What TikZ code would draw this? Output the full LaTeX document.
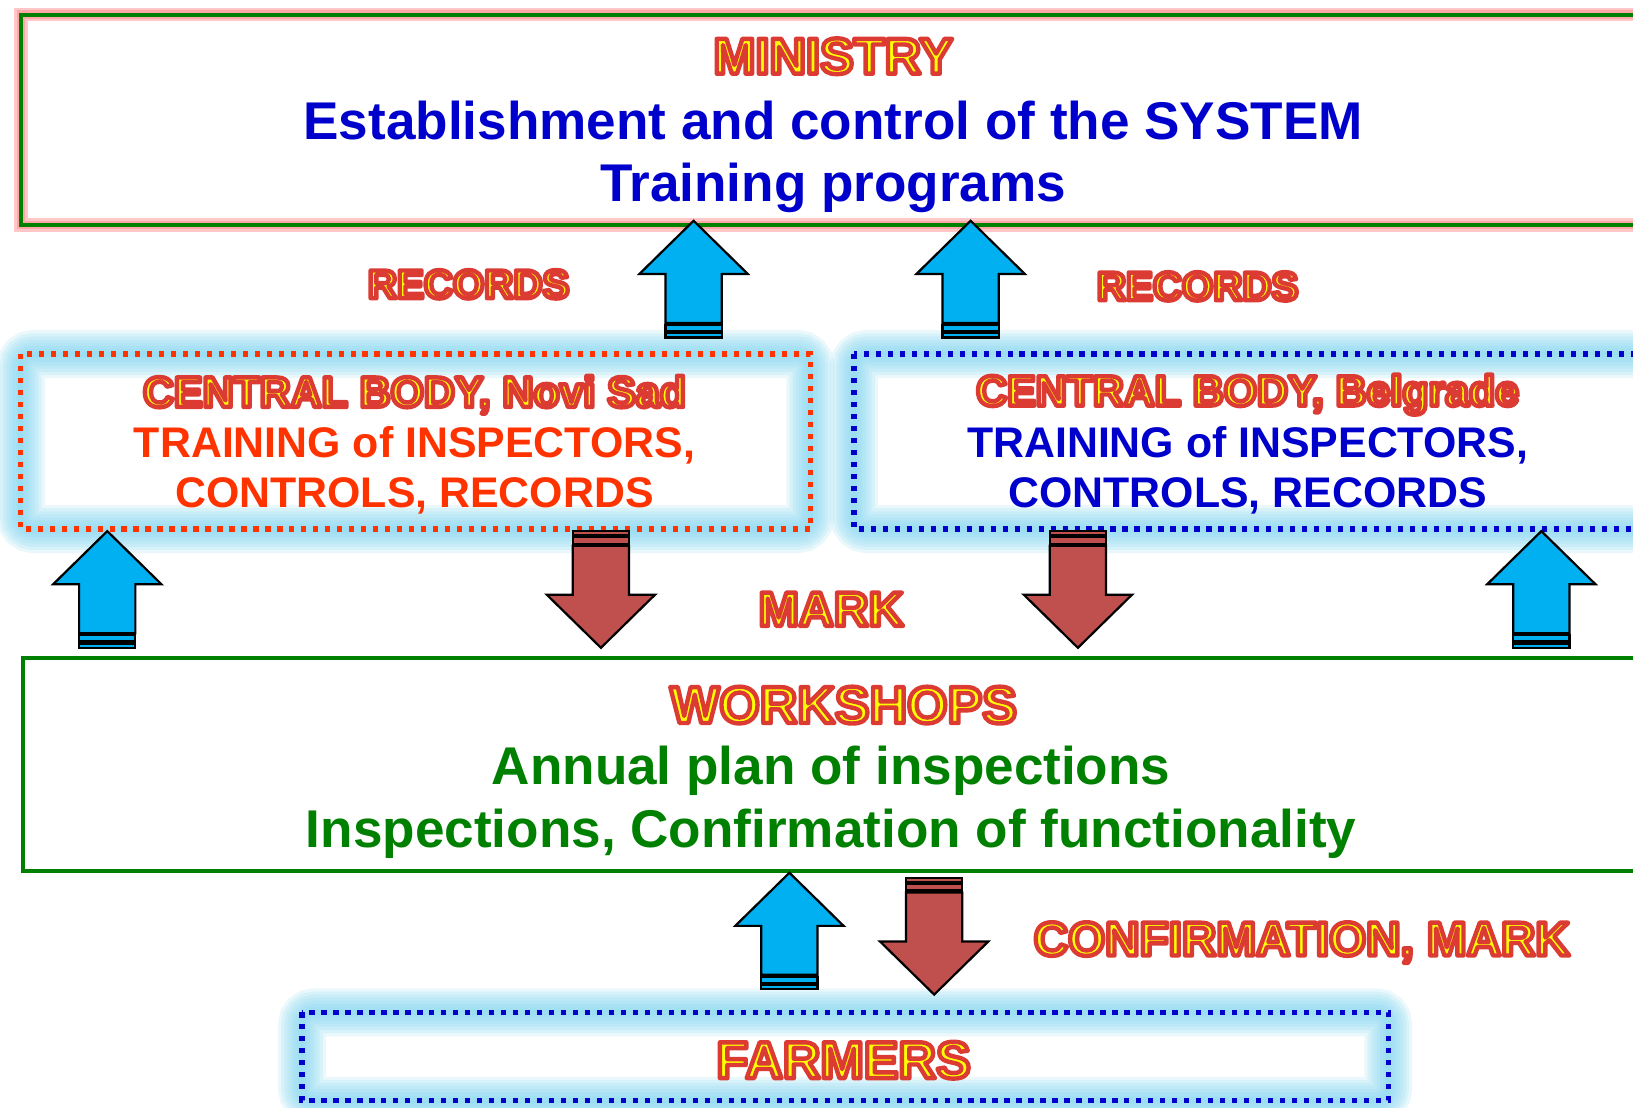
\documentclass[tikz,border=0pt]{standalone}
\usepackage{fontspec}
\setmainfont{Liberation Sans}
\definecolor{mblue}{HTML}{0000CC}
\definecolor{mgreen}{HTML}{008000}
\definecolor{morange}{HTML}{FF3300}
\definecolor{outyellow}{HTML}{FFFF00}
\definecolor{glowblue}{HTML}{7FD6F2}
\definecolor{arrblue}{HTML}{00B0F0}
\definecolor{arrred}{HTML}{C0504D}
% yellow letters with a red stroke (fill and stroke render mode)
\newcommand{\outl}[1]{{\color{outyellow}\special{pdf:literal direct 2 Tr 1.2 w 1 j 0.86 0.23 0.2 RG}#1\special{pdf:literal direct 0 Tr}}}
\tikzset{
	uparr/.pic={
		\draw[arrline,fill=arrblue] (0,0) -- (52,51) -- (27,51) -- (27,98) -- (-27,98) -- (-27,51) -- (-52,51) -- cycle;
		\draw[arrline,fill=arrblue] (-27,100) rectangle (27,106);
		\draw[arrline,fill=arrblue] (-27,108) rectangle (27,112);
	},
	downarr/.pic={
		\draw[arrline,fill=arrred] (-27,0) rectangle (27,4);
		\draw[arrline,fill=arrred] (-27,6) rectangle (27,12);
		\draw[arrline,fill=arrred] (-27,14) -- (27,14) -- (27,61) -- (52,61) -- (0,112) -- (-52,61) -- (-27,61) -- cycle;
	},
}
\begin{document}
\begin{tikzpicture}[x=0.01cm,y=-0.01cm,
		arrline/.style={draw=black,line width=0.6pt},
		dotbox/.style={line width=0.05cm,dash pattern=on 0.05cm off 0.065cm},
		bigtext/.style={inner sep=0,font=\fontsize{14.5}{17}\selectfont\bfseries},
		midtext/.style={inner sep=0,font=\fontsize{11.7}{14}\selectfont\bfseries},
		outtext/.style={inner sep=0,font=\fontsize{#1}{16}\selectfont\bfseries}]
	\useasboundingbox[clip] (0,0) rectangle (1568,1063);
	\fill[white] (0,0) rectangle (1568,1063);
	% glow round the dotted boxes
	\foreach \w in {0.46,0.40,0.34,0.28,0.22,0.16,0.10,0.05} {
		\draw[glowblue,line width=\w cm,opacity=0.16,rounded corners=0.12cm] (20,340) rectangle (778,508);
		\draw[glowblue,line width=\w cm,opacity=0.16,rounded corners=0.12cm] (820,340) rectangle (1620,508);
		\draw[glowblue,line width=\w cm,opacity=0.16,rounded corners=0.12cm] (290,972) rectangle (1333,1057);
	}
	% boxes
	\draw[red!22,line width=0.13cm] (20,14) rectangle (1620,216);
	\draw[red!35,line width=0.08cm] (20,14) rectangle (1620,216);
	\draw[mgreen,line width=0.04cm] (20,14) rectangle (1620,216);
	\draw[morange,dotbox] (20,340) rectangle (778,508);
	\draw[mblue,dotbox] (820,340) rectangle (1620,508);
	\draw[mgreen,line width=0.04cm] (22,632) rectangle (1620,836);
	\draw[mblue,dotbox] (290,972) rectangle (1333,1057);
	% texts
	\node[outtext=13.8] (ministry) at (800,54) {\outl{MINISTRY}};
	\node[bigtext,mblue] (estab) at (800,116) {Establishment and control of the SYSTEM};
	\node[bigtext,mblue] (progs) at (800,180) {Training programs};
	\node[outtext=11] (recleft) at (450,273) {\outl{RECORDS}};
	\node[outtext=11] (recright) at (1150,275) {\outl{RECORDS}};
	\node[outtext=11.7] (nsname) at (398,379) {\outl{CENTRAL BODY, Novi Sad}};
	\node[midtext,morange] (nstrain) at (398,428) {TRAINING of INSPECTORS,};
	\node[midtext,morange] (nsctrl) at (398,476) {CONTROLS, RECORDS};
	\node[outtext=11.7] (bgname) at (1198,379) {\outl{CENTRAL BODY, Belgrade}};
	\node[midtext,mblue] (bgtrain) at (1198,428) {TRAINING of INSPECTORS,};
	\node[midtext,mblue] (bgctrl) at (1198,476) {CONTROLS, RECORDS};
	\node[outtext=13.2] (mark) at (798,585) {\outl{MARK}};
	\node[outtext=14.2] (workshops) at (810,677) {\outl{WORKSHOPS}};
	\node[bigtext,mgreen] (plan) at (798,740) {Annual plan of inspections};
	\node[bigtext,mgreen] (insp) at (798,801) {Inspections, Confirmation of functionality};
	\node[outtext=13] (confmark) at (1250,905) {\outl{CONFIRMATION, MARK}};
	\node[outtext=14.2] (farmers) at (810,1018) {\outl{FARMERS}};
	% block arrows
	\pic at (666,212) {uparr};
	\pic at (932,212) {uparr};
	\pic at (103,510) {uparr};
	\pic at (1480,510) {uparr};
	\pic at (758,838) {uparr};
	\pic at (577,510) {downarr};
	\pic at (1035,510) {downarr};
	\pic at (897,843) {downarr};
\end{tikzpicture}
\end{document}
